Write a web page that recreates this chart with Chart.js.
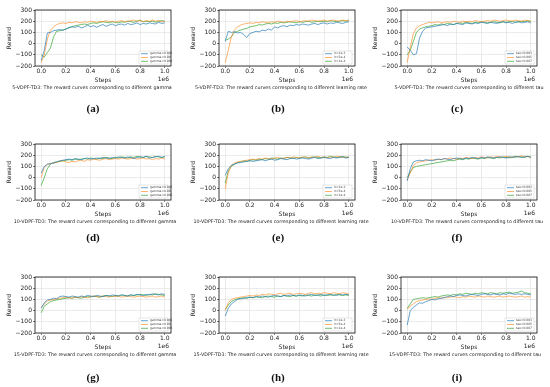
<!DOCTYPE html>
<html>
<head>
<meta charset="utf-8">
<script src="https://cdn.jsdelivr.net/npm/chart.js@4.4.0/dist/chart.umd.min.js"></script>
<style>
  body { margin:0; background:#fff; width:550px; height:387px; position:relative; overflow:hidden; font-family:"DejaVu Sans", sans-serif; }
  canvas { position:absolute; }
  .cap { position:absolute; font-size:4.8px; line-height:6px; white-space:nowrap; transform:translateX(-50%); color:#222; }
  .lab { position:absolute; font-family:"Liberation Serif", serif; font-weight:bold; font-size:11px; line-height:12px; transform:translateX(-50%); color:#111; }
</style>
</head>
<body>
<script>
// x positions in units of 1e6 steps
const steps = [0, 0.025, 0.05, 0.075, 0.1, 0.125, 0.15, 0.175, 0.2, 0.225,
  0.25, 0.275, 0.3, 0.325, 0.35, 0.375, 0.4, 0.425, 0.45, 0.475,
  0.5, 0.525, 0.55, 0.575, 0.6, 0.625, 0.65, 0.675, 0.7, 0.725,
  0.75, 0.775, 0.8, 0.825, 0.85, 0.875, 0.9, 0.925, 0.95, 0.975, 1.0];
const xTicks = [0, 0.2, 0.4, 0.6, 0.8, 1.0];
const yTicks = [-200, -100, 0, 100, 200, 300];

const gammaLabels = ["gamma=0.985", "gamma=0.99", "gamma=0.995"];
const lrLabels = ["lr=1e-3", "lr=5e-4", "lr=1e-4"];
const tauLabels = ["tau=0.003", "tau=0.005", "tau=0.007"];

// (a) 5-VDPF-TD3 gamma
const a1 = [-150, -60, 95, 100, 115, 120, 125, 120, 130, 140, 150, 145, 155, 140, 150, 165, 150, 160, 145, 160,
  170, 155, 165, 175, 160, 170, 175, 165, 180, 170, 175, 185, 170, 180, 175, 185, 180, 175, 190, 180, 185];
const a2 = [-170, -100, 40, 120, 150, 170, 180, 185, 180, 190, 185, 195, 190, 185, 195, 190, 200, 195, 190, 200,
  195, 205, 195, 200, 190, 200, 205, 195, 200, 205, 210, 200, 205, 195, 205, 200, 210, 200, 205, 195, 200];
const a3 = [-100, -120, -80, -40, 60, 110, 115, 120, 130, 145, 150, 160, 165, 170, 175, 170, 180, 185, 180, 190,
  195, 190, 185, 195, 190, 185, 195, 190, 200, 195, 190, 200, 210, 195, 200, 195, 200, 190, 200, 205, 200];
// (b) 5-VDPF-TD3 learning rate
const b1 = [20, 110, 100, 105, 95, 100, 80, 55, 90, 100, 110, 105, 120, 115, 130, 120, 150, 140, 155, 160,
  150, 165, 160, 170, 165, 175, 170, 165, 175, 180, 170, 180, 185, 175, 185, 180, 190, 185, 180, 190, 195];
const b2 = [-170, -60, 60, 120, 150, 165, 175, 180, 185, 180, 190, 185, 195, 190, 185, 195, 190, 200, 195, 190,
  200, 195, 200, 205, 195, 200, 205, 200, 210, 205, 200, 205, 210, 200, 205, 210, 205, 200, 210, 205, 210];
const b3 = [30, 40, 60, 100, 110, 120, 130, 135, 150, 155, 160, 170, 165, 175, 180, 175, 185, 180, 190, 185,
  190, 195, 190, 185, 195, 190, 195, 200, 190, 195, 200, 195, 200, 195, 205, 200, 195, 200, 205, 200, 205];
// (c) 5-VDPF-TD3 tau
const c1 = [-30, -60, -100, -90, 50, 110, 140, 145, 150, 155, 160, 165, 170, 160, 175, 170, 180, 175, 170, 185,
  180, 175, 185, 180, 190, 185, 180, 190, 185, 180, 190, 195, 185, 190, 180, 190, 195, 185, 190, 195, 185];
const c2 = [-170, -30, 90, 140, 160, 170, 180, 190, 185, 190, 195, 185, 190, 195, 190, 200, 195, 190, 200, 195,
  200, 195, 205, 200, 195, 200, 205, 200, 210, 205, 200, 205, 210, 205, 200, 210, 205, 200, 210, 205, 200];
const c3 = [-100, -60, 20, 100, 130, 140, 150, 155, 160, 170, 165, 175, 170, 180, 175, 170, 180, 185, 180, 190,
  185, 180, 190, 185, 195, 190, 185, 190, 195, 190, 185, 195, 190, 195, 200, 190, 195, 200, 195, 205, 195];
// (d) 10-VDPF-TD3 gamma
const d1 = [40, 100, 120, 125, 130, 140, 150, 155, 160, 165, 160, 170, 165, 160, 170, 175, 165, 170, 175, 170,
  180, 175, 170, 180, 175, 185, 180, 175, 185, 180, 170, 180, 185, 180, 190, 175, 180, 185, 190, 180, 190];
const d2 = [0, 90, 120, 125, 130, 135, 145, 150, 140, 135, 145, 140, 150, 155, 145, 160, 155, 165, 160, 155,
  165, 170, 160, 165, 170, 165, 175, 170, 165, 170, 175, 165, 170, 175, 165, 170, 160, 170, 165, 175, 165];
const d3 = [-70, 0, 80, 120, 135, 140, 145, 150, 155, 160, 155, 165, 160, 165, 170, 165, 175, 170, 165, 175,
  170, 180, 175, 170, 180, 175, 185, 180, 175, 185, 180, 190, 185, 180, 190, 185, 180, 190, 185, 180, 185];
// (e) 10-VDPF-TD3 learning rate
const e1 = [20, 80, 110, 120, 130, 135, 140, 145, 150, 145, 150, 155, 160, 150, 160, 165, 155, 160, 170, 165,
  160, 170, 175, 165, 170, 175, 170, 165, 175, 180, 170, 175, 180, 175, 170, 180, 175, 180, 185, 175, 180];
const e2 = [-100, 40, 110, 130, 140, 145, 150, 155, 160, 165, 160, 170, 165, 175, 170, 165, 175, 180, 170, 175,
  180, 175, 185, 180, 175, 185, 180, 175, 185, 180, 190, 180, 185, 175, 185, 180, 190, 185, 180, 185, 180];
const e3 = [-50, 60, 100, 120, 135, 140, 150, 145, 155, 160, 155, 165, 160, 170, 165, 175, 170, 165, 175, 170,
  180, 175, 170, 180, 175, 180, 185, 175, 180, 185, 180, 175, 185, 180, 190, 185, 180, 185, 190, 180, 185];
// (f) 10-VDPF-TD3 tau
const f1 = [-30, 80, 140, 150, 155, 150, 160, 155, 150, 160, 165, 160, 170, 165, 160, 170, 175, 170, 165, 175,
  170, 180, 175, 170, 180, 175, 185, 180, 175, 180, 185, 180, 175, 185, 180, 190, 185, 180, 185, 190, 180];
const f2 = [-20, 40, 110, 130, 140, 145, 150, 155, 160, 155, 165, 160, 170, 165, 175, 170, 165, 175, 170, 180,
  175, 170, 180, 175, 185, 180, 175, 185, 180, 190, 185, 180, 190, 185, 180, 190, 185, 195, 185, 190, 175];
const f3 = [0, 50, 90, 100, 105, 110, 115, 120, 125, 130, 135, 140, 145, 150, 155, 150, 160, 165, 160, 170,
  165, 175, 170, 165, 175, 170, 180, 175, 170, 180, 175, 185, 180, 175, 185, 180, 190, 185, 180, 190, 185];
// (g) 15-VDPF-TD3 gamma
const g1 = [20, 70, 95, 100, 110, 105, 125, 130, 125, 120, 130, 125, 120, 130, 125, 135, 130, 125, 135, 130,
  125, 135, 130, 140, 135, 130, 140, 135, 130, 140, 135, 145, 140, 135, 145, 140, 150, 145, 140, 150, 145];
const g2 = [30, 60, 85, 95, 100, 105, 110, 115, 120, 115, 110, 120, 115, 125, 120, 115, 125, 130, 125, 120,
  130, 125, 120, 130, 125, 130, 120, 125, 130, 125, 120, 125, 130, 125, 120, 125, 130, 120, 125, 130, 120];
const g3 = [-20, 40, 60, 80, 90, 95, 100, 105, 110, 115, 110, 120, 115, 110, 120, 125, 120, 130, 125, 120,
  130, 135, 130, 125, 135, 130, 140, 135, 130, 140, 135, 140, 145, 140, 135, 145, 140, 150, 145, 140, 135];
// (h) 15-VDPF-TD3 learning rate
const h1 = [-50, 20, 60, 80, 100, 105, 110, 115, 120, 115, 125, 120, 130, 125, 120, 130, 135, 130, 125, 135,
  130, 140, 135, 130, 140, 135, 130, 140, 145, 135, 140, 145, 135, 140, 145, 140, 135, 145, 140, 145, 140];
const h2 = [0, 70, 100, 110, 115, 120, 125, 130, 135, 130, 140, 135, 145, 140, 150, 145, 140, 150, 155, 145,
  150, 155, 145, 150, 155, 150, 145, 155, 160, 150, 155, 150, 160, 155, 150, 160, 155, 150, 160, 155, 150];
const h3 = [10, 50, 80, 95, 105, 110, 115, 110, 120, 115, 125, 120, 115, 125, 130, 125, 120, 130, 125, 135,
  130, 125, 135, 130, 135, 130, 140, 135, 130, 140, 135, 130, 140, 135, 140, 135, 145, 140, 135, 140, 135];
// (i) 15-VDPF-TD3 tau
const i1 = [-130, 0, 30, 50, 70, 65, 80, 90, 100, 95, 105, 110, 115, 125, 130, 125, 135, 140, 135, 130,
  140, 145, 140, 135, 145, 150, 145, 140, 150, 145, 140, 150, 145, 155, 150, 145, 150, 145, 150, 145, 140];
const i2 = [10, 40, 60, 80, 90, 95, 100, 105, 100, 110, 115, 110, 120, 115, 120, 125, 120, 115, 125, 120,
  130, 125, 120, 130, 125, 120, 130, 125, 120, 125, 130, 120, 125, 130, 125, 120, 125, 130, 120, 125, 120];
const i3 = [20, 60, 100, 105, 110, 115, 110, 115, 120, 125, 120, 130, 135, 140, 135, 145, 140, 150, 145, 155,
  150, 145, 155, 150, 160, 155, 150, 160, 155, 150, 160, 155, 160, 165, 155, 160, 165, 175, 160, 155, 150];

const colors = ["rgba(31,119,180,0.85)", "rgba(255,127,14,0.75)", "rgba(44,160,44,0.85)"];

const panels = [
  { id: "a", row: 0, col: 0, series: [a1, a2, a3], labels: gammaLabels, cap: "5-VDPF-TD3: The reward curves corresponding to different gamma" },
  { id: "b", row: 0, col: 1, series: [b1, b2, b3], labels: lrLabels, cap: "5-VDPF-TD3: The reward curves corresponding to different learning rate" },
  { id: "c", row: 0, col: 2, series: [c1, c2, c3], labels: tauLabels, cap: "5-VDPF-TD3: The reward curves corresponding to different tau" },
  { id: "d", row: 1, col: 0, series: [d1, d2, d3], labels: gammaLabels, cap: "10-VDPF-TD3: The reward curves corresponding to different gamma" },
  { id: "e", row: 1, col: 1, series: [e1, e2, e3], labels: lrLabels, cap: "10-VDPF-TD3: The reward curves corresponding to different learning rate" },
  { id: "f", row: 1, col: 2, series: [f1, f2, f3], labels: tauLabels, cap: "10-VDPF-TD3: The reward curves corresponding to different tau" },
  { id: "g", row: 2, col: 0, series: [g1, g2, g3], labels: gammaLabels, cap: "15-VDPF-TD3: The reward curves corresponding to different gamma" },
  { id: "h", row: 2, col: 1, series: [h1, h2, h3], labels: lrLabels, cap: "15-VDPF-TD3: The reward curves corresponding to different learning rate" },
  { id: "i", row: 2, col: 2, series: [i1, i2, i3], labels: tauLabels, cap: "15-VDPF-TD3: The reward curves corresponding to different tau" }
];

// layout (page pixels)
const plotLeft = [35, 219, 401];
const plotTop = [10, 144, 277];
const plotW = 136, plotH = 56;
const capX = [[92, 281, 469], [95, 281, 467], [95, 281, 465]];
const labX = [93, 278, 457];
const labY = [102, 231, 371];

const padL = 35, padT = 5, padR = 6, padB = 26;

Chart.defaults.font.family = "'DejaVu Sans', sans-serif";
Chart.defaults.color = "#222";

// frame + "1e6" offset text + small legend inside the axes
const framePlugin = {
  id: "framePlugin",
  afterDraw(chart) {
    const { ctx, chartArea: ca } = chart;
    ctx.save();
    // legend box
    const w = 29, h = 13;
    const lx = ca.right - w - 3, ly = ca.bottom - h - 2;
    ctx.fillStyle = "rgba(255,255,255,0.85)";
    ctx.strokeStyle = "#d0d0d0";
    ctx.lineWidth = 0.5;
    ctx.fillRect(lx, ly, w, h);
    ctx.strokeRect(lx, ly, w, h);
    chart.data.datasets.forEach((ds, k) => {
      const yy = ly + 2.7 + k * 3.8;
      ctx.strokeStyle = ds.borderColor;
      ctx.lineWidth = 0.8;
      ctx.beginPath();
      ctx.moveTo(lx + 2, yy);
      ctx.lineTo(lx + 9, yy);
      ctx.stroke();
      ctx.fillStyle = "#444";
      ctx.font = "3px 'DejaVu Sans'";
      ctx.textBaseline = "middle";
      ctx.textAlign = "left";
      ctx.fillText(ds.label, lx + 11, yy);
    });
    // axes frame
    ctx.strokeStyle = "#111";
    ctx.lineWidth = 0.8;
    ctx.strokeRect(ca.left, ca.top, ca.right - ca.left, ca.bottom - ca.top);
    // offset text
    ctx.fillStyle = "#222";
    ctx.font = "6px 'DejaVu Sans'";
    ctx.textAlign = "right";
    ctx.textBaseline = "middle";
    ctx.fillText("1e6", ca.right - 2, ca.bottom + 13.5);
    ctx.restore();
  }
};

panels.forEach(p => {
  const left = plotLeft[p.col] - padL;
  const top = plotTop[p.row] - padT;
  const cv = document.createElement("canvas");
  cv.width = padL + plotW + padR;
  cv.height = padT + plotH + padB;
  cv.style.left = left + "px";
  cv.style.top = top + "px";
  document.body.appendChild(cv);

  new Chart(cv.getContext("2d"), {
    type: "line",
    data: {
      datasets: p.series.map((vals, k) => ({
        label: p.labels[k],
        data: vals.map((v, j) => ({ x: steps[j], y: v })),
        borderColor: colors[k],
        borderWidth: 0.8,
        pointRadius: 0,
        tension: 0,
        fill: false
      }))
    },
    options: {
      responsive: false,
      animation: false,
      devicePixelRatio: 1,
      layout: { padding: { left: 0, top: padT, right: padR, bottom: 0 } },
      plugins: { legend: { display: false }, tooltip: { enabled: false } },
      scales: {
        x: {
          type: "linear",
          min: -0.05,
          max: 1.05,
          afterBuildTicks: s => { s.ticks = xTicks.map(v => ({ value: v })); },
          afterFit: s => { s.height = padB; },
          ticks: { font: { size: 6 }, padding: 0, maxRotation: 0, callback: v => v.toFixed(1) },
          grid: { color: "#dedede", lineWidth: 0.6, tickLength: 2, tickColor: "#222" },
          border: { display: false },
          title: { display: true, text: "Steps", font: { size: 6 }, padding: { top: 0, bottom: 8 } }
        },
        y: {
          min: -200,
          max: 300,
          afterBuildTicks: s => { s.ticks = yTicks.map(v => ({ value: v })); },
          afterFit: s => { s.width = padL; },
          ticks: { font: { size: 6 }, padding: 1, callback: v => String(v).replace("-", "\u2212") },
          grid: { color: "#dedede", lineWidth: 0.6, tickLength: 2, tickColor: "#222" },
          border: { display: false },
          title: { display: true, text: "Reward", font: { size: 6 }, padding: { top: 6, bottom: 0 } }
        }
      }
    },
    plugins: [framePlugin]
  });

  const cap = document.createElement("div");
  cap.className = "cap";
  cap.textContent = p.cap;
  cap.style.left = capX[p.row][p.col] + "px";
  cap.style.top = (plotTop[p.row] + plotH + 19) + "px";
  document.body.appendChild(cap);

  const lab = document.createElement("div");
  lab.className = "lab";
  lab.textContent = "(" + p.id + ")";
  lab.style.left = labX[p.col] + "px";
  lab.style.top = labY[p.row] + "px";
  document.body.appendChild(lab);
});
</script>
</body>
</html>
